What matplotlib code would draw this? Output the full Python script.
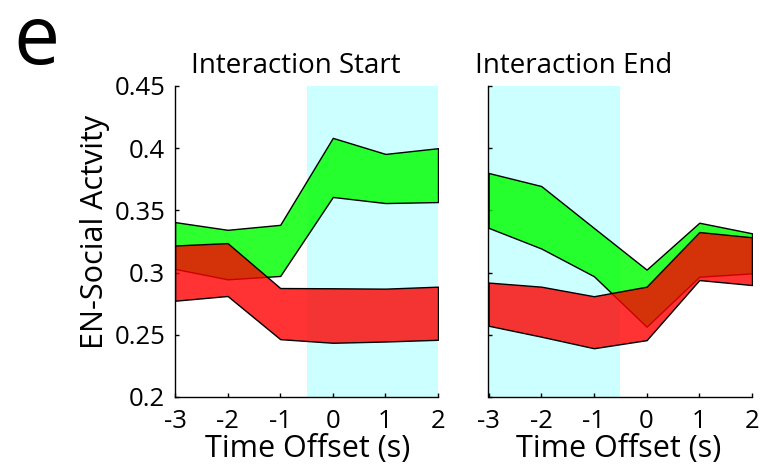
import matplotlib
matplotlib.use("Agg")
import matplotlib.pyplot as plt

plt.rcParams['font.family'] = ['Open Sans', 'DejaVu Sans']
plt.rcParams['axes.unicode_minus'] = False

# Time offsets (s)
offsets = [-3, -2, -1, 0, 1, 2]
tick_labels = ['-3', '-2', '-1', '0', '1', '2']
y_ticks = [0.2, 0.25, 0.3, 0.35, 0.4, 0.45]
y_tick_labels = ['0.2', '0.25', '0.3', '0.35', '0.4', '0.45']

# Interaction start: confidence bands
start_green_upper = [0.3406, 0.3344, 0.3384, 0.4083, 0.3954, 0.4000]
start_green_lower = [0.3030, 0.2946, 0.2973, 0.3608, 0.3559, 0.3567]
start_red_upper = [0.3218, 0.3237, 0.2876, 0.2874, 0.2871, 0.2887]
start_red_lower = [0.2774, 0.2812, 0.2465, 0.2436, 0.2446, 0.2460]

# Interaction end: confidence bands
end_green_upper = [0.3801, 0.3696, 0.3359, 0.3024, 0.3401, 0.3316]
end_green_lower = [0.3360, 0.3194, 0.2971, 0.2565, 0.2967, 0.2994]
end_red_upper = [0.2920, 0.2887, 0.2810, 0.2887, 0.3326, 0.3284]
end_red_lower = [0.2573, 0.2485, 0.2392, 0.2457, 0.2940, 0.2900]

# Shaded interaction windows
start_window = (-0.5, 2)
end_window = (-3, -0.5)

W, H = 765, 466
fig = plt.figure(figsize=(W / 100, H / 100), dpi=100)

def px_box(x0, x1, y_top, y_bot):
    return [x0 / W, 1 - y_bot / H, (x1 - x0) / W, (y_bot - y_top) / H]

ax1 = fig.add_axes(px_box(175, 438, 86, 397))
ax2 = fig.add_axes(px_box(488.5, 752, 86, 397))

panels = [
    (ax1, start_window, start_green_upper, start_green_lower, start_red_upper, start_red_lower),
    (ax2, end_window, end_green_upper, end_green_lower, end_red_upper, end_red_lower),
]

for ax, win, gu, gl, ru, rl in panels:
    ax.axvspan(win[0], win[1], color='#ccffff', lw=0, zorder=0)
    ax.fill_between(offsets, gl, gu, facecolor=(0, 1, 0, 0.82),
                    edgecolor='black', linewidth=1.0, zorder=2)
    ax.fill_between(offsets, rl, ru, facecolor=(1, 0, 0, 0.8),
                    edgecolor='black', linewidth=1.0, zorder=3)
    ax.set_xlim(-3, 2)
    ax.set_ylim(0.2, 0.45)
    ax.set_xticks(offsets)
    ax.set_xticklabels(tick_labels)
    ax.set_yticks(y_ticks)
    for s in ('top', 'right'):
        ax.spines[s].set_visible(False)
    for s in ('left', 'bottom'):
        ax.spines[s].set_linewidth(1.0)
        ax.spines[s].set_zorder(5)
    ax.tick_params(direction='in', length=3, width=1, labelsize=18.5)
    ax.tick_params(axis='x', pad=9)
    ax.tick_params(axis='y', pad=7)

ax1.set_yticklabels(y_tick_labels)
ax2.set_yticklabels([])

fig.text(296 / W, 1 - 73 / H, 'Interaction Start', ha='center', va='baseline', fontsize=20)
fig.text(573.5 / W, 1 - 73 / H, 'Interaction End', ha='center', va='baseline', fontsize=20)
fig.text(308 / W, 1 - 457 / H, 'Time Offset (s)', ha='center', va='baseline', fontsize=22)
fig.text(619 / W, 1 - 457 / H, 'Time Offset (s)', ha='center', va='baseline', fontsize=22)
fig.text(95 / W, 1 - 232 / H, 'EN-Social Actvity', ha='center', va='center',
         rotation=90, fontsize=22)
fig.text(13 / W, 1 - 64 / H, 'e', ha='left', va='baseline', fontsize=59)

fig.savefig('out.png', dpi=100)
